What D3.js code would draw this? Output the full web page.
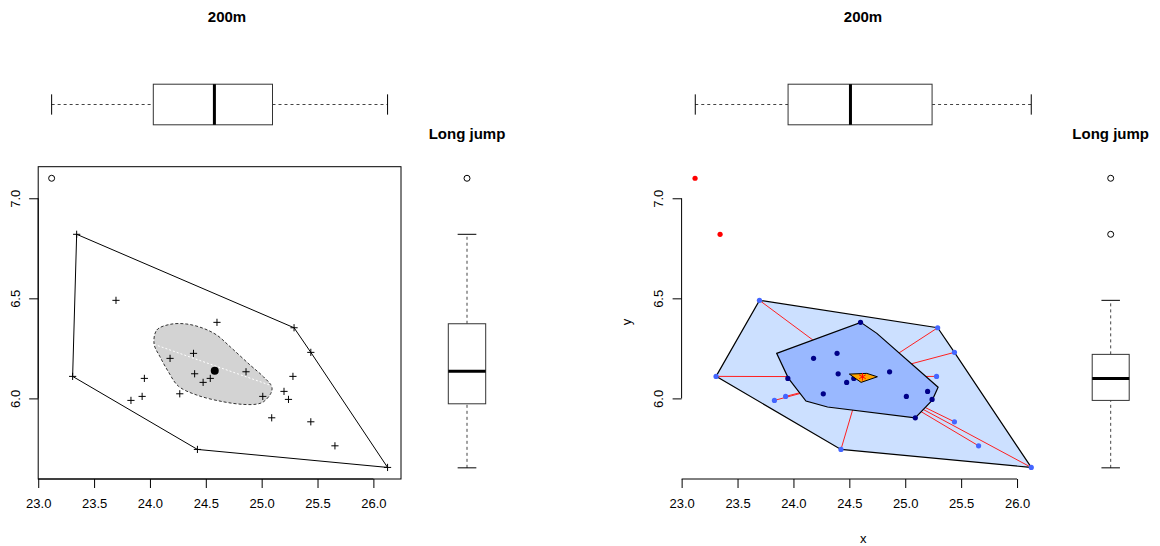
<!DOCTYPE html>
<html>
<head>
<meta charset="utf-8">
<script src="https://cdn.jsdelivr.net/npm/d3@7"></script>
<style>
body { margin: 0; background: #fff; }
svg { display: block; font-family: "Liberation Sans", Arial, Helvetica, sans-serif; }
</style>
</head>
<body>
<div id="chart"></div>
<script>
// athletes: 200m time vs long jump distance
var run200m  = [23.12, 23.344, 23.696, 23.308, 24.425, 26.127, 25.29, 25.44, 24.60, 24.39, 24.18, 24.40, 24.54,
                24.476, 24.86, 23.95, 24.267, 23.93, 23.83, 25.01, 25.28, 25.20, 25.24, 25.09, 25.44, 25.656];
var longJump = [7.10, 6.82, 6.49, 6.11, 5.745, 5.655, 6.353, 6.23, 6.38, 6.225, 6.20, 6.123, 6.10,
                6.08, 6.133, 6.10, 6.023, 6.01, 5.99, 6.01, 6.11, 6.035, 5.995, 5.903, 5.883, 5.763];

// classification of each point in the right hand bagplot
var rightGroup = ["out", "out", "loop", "loop", "loop", "loop", "loop", "loop", "bag", "bag", "bag", "bag", "bag",
                  "bag", "bag", "bag", "bag", "loop", "loop", "bag", "loop", "bag", "bag", "bag", "loop", "loop"];
var leftOutlier = [0];

// left bag (smoothed outline), its axis and centre
var bagLeftX = [24.037, 24.061, 24.18, 24.33, 24.478, 24.598, 24.718, 24.897, 25.016, 25.091,
                25.082, 25.016, 24.957, 24.837, 24.658, 24.42, 24.254, 24.165, 24.09];
var bagLeftY = [6.2715, 6.3415, 6.37, 6.3715, 6.35, 6.3165, 6.258, 6.1665, 6.108, 6.058,
                6.025, 5.983, 5.9715, 5.97, 5.983, 6.0165, 6.0615, 6.133, 6.208];
var bagLeftAxisX = [24.037, 25.09];
var bagLeftAxisY = [6.27, 6.063];
var centerLeft = [24.58, 6.138];

// right bag polygon, median region and centre
var bagRightX = [23.85, 24.602, 24.746, 25.294, 25.242, 25.089, 24.305, 24.112, 23.954];
var bagRightY = [6.225, 6.38, 6.325, 6.056, 5.9915, 5.903, 5.957, 5.9865, 6.1015];
var medRegionX = [24.50, 24.656, 24.751, 24.605];
var medRegionY = [6.1215, 6.125, 6.108, 6.08];
var centerRight = [24.617, 6.108];

// marginal boxplots: [lower whisker, Q1, median, Q3, upper whisker]
var boxTopLeft   = [23.12, 24.03, 24.577, 25.097, 26.127];
var boxSideLeft  = [5.653, 5.973, 6.136, 6.373, 6.82];
var boxSideLeftOut = [7.10];
var boxTopRight  = [23.122, 23.952, 24.51, 25.24, 26.127];
var boxSideRight = [5.653, 5.99, 6.10, 6.22, 6.49];
var boxSideRightOut = [7.10, 6.82];

var xTicks = [23.0, 23.5, 24.0, 24.5, 25.0, 25.5, 26.0];
var yTicks = [6.0, 6.5, 7.0];

var width = 1160, height = 546;
var svg = d3.select("#chart").append("svg")
    .attr("width", width)
    .attr("height", height);

var points = run200m.map(function (d, i) {
    return { x: d, y: longJump[i], i: i };
});

// R style 4% padding of the ranges
function padded(arr) {
    var e = d3.extent(arr), p = (e[1] - e[0]) * 0.04;
    return [e[0] - p, e[1] + p];
}
var xDom = padded(run200m), yDom = padded(longJump);

var plotTop = 166.7, plotBottom = 479;
var yScale = d3.scaleLinear().domain(yDom).range([plotBottom, plotTop]);
var xLeft = d3.scaleLinear().domain(xDom).range([38.2, 401]);
var xRight = d3.scaleLinear().domain(xDom).range([681.6, 1044.7]);

function drawAxes(g, x, boxed, titles) {
    var x0 = x.range()[0];
    if (boxed) {
        g.append("rect")
            .attr("x", x.range()[0]).attr("y", plotTop)
            .attr("width", x.range()[1] - x.range()[0])
            .attr("height", plotBottom - plotTop)
            .attr("fill", "none").attr("stroke", "#000").attr("stroke-width", 1);
    }
    var ax = g.append("g")
        .attr("transform", "translate(0," + plotBottom + ")")
        .call(d3.axisBottom(x).tickValues(xTicks).tickFormat(d3.format(".1f")).tickSize(9).tickPadding(12));
    var ay = g.append("g")
        .attr("transform", "translate(" + x0 + ",0)")
        .call(d3.axisLeft(yScale).tickValues(yTicks).tickFormat(d3.format(".1f")).tickSize(9).tickPadding(12));
    [ax, ay].forEach(function (a) {
        a.select(".domain").remove();
        a.selectAll("line").attr("stroke", "#000");
        a.selectAll("text").attr("fill", "#000").style("font-size", "13px");
    });
    // axis lines span first to last tick only
    ax.append("line").attr("x1", x(xTicks[0])).attr("x2", x(xTicks[xTicks.length - 1]))
        .attr("stroke", "#000");
    ay.append("line").attr("y1", yScale(yTicks[0])).attr("y2", yScale(yTicks[yTicks.length - 1]))
        .attr("stroke", "#000");
    // y labels parallel to the axis
    ay.selectAll(".tick text")
        .attr("x", null).attr("dy", null)
        .attr("text-anchor", "middle")
        .attr("transform", "translate(-23,0) rotate(-90)")
        .attr("dy", "0.35em");
    ax.selectAll(".tick text").attr("dy", "0.6em");
    if (titles) {
        g.append("text").attr("x", (x.range()[0] + x.range()[1]) / 2).attr("y", 538)
            .attr("text-anchor", "middle").attr("dy", "0.35em")
            .style("font-size", "13px").text("x");
        g.append("text")
            .attr("transform", "translate(626," + 322 + ") rotate(-90)")
            .attr("text-anchor", "middle").attr("dy", "0.35em")
            .style("font-size", "13px").text("y");
    }
}

function horizontalBox(g, x, stats, cy, hh) {
    var dash = "3,3";
    g.append("line").attr("x1", x(stats[0])).attr("x2", x(stats[1])).attr("y1", cy).attr("y2", cy)
        .attr("stroke", "#444").attr("stroke-dasharray", dash);
    g.append("line").attr("x1", x(stats[3])).attr("x2", x(stats[4])).attr("y1", cy).attr("y2", cy)
        .attr("stroke", "#444").attr("stroke-dasharray", dash);
    [stats[0], stats[4]].forEach(function (v) {
        g.append("line").attr("x1", x(v)).attr("x2", x(v)).attr("y1", cy - hh / 2).attr("y2", cy + hh / 2)
            .attr("stroke", "#000");
    });
    g.append("rect").attr("x", x(stats[1])).attr("y", cy - hh)
        .attr("width", x(stats[3]) - x(stats[1])).attr("height", 2 * hh)
        .attr("fill", "#fff").attr("stroke", "#333");
    g.append("line").attr("x1", x(stats[2])).attr("x2", x(stats[2])).attr("y1", cy - hh).attr("y2", cy + hh)
        .attr("stroke", "#000").attr("stroke-width", 3);
}

function verticalBox(g, stats, outl, cx, hw) {
    var dash = "3,3";
    g.append("line").attr("y1", yScale(stats[0])).attr("y2", yScale(stats[1])).attr("x1", cx).attr("x2", cx)
        .attr("stroke", "#444").attr("stroke-dasharray", dash);
    g.append("line").attr("y1", yScale(stats[3])).attr("y2", yScale(stats[4])).attr("x1", cx).attr("x2", cx)
        .attr("stroke", "#444").attr("stroke-dasharray", dash);
    [stats[0], stats[4]].forEach(function (v) {
        g.append("line").attr("y1", yScale(v)).attr("y2", yScale(v)).attr("x1", cx - hw / 2).attr("x2", cx + hw / 2)
            .attr("stroke", "#000");
    });
    g.append("rect").attr("y", yScale(stats[3])).attr("x", cx - hw)
        .attr("height", yScale(stats[1]) - yScale(stats[3])).attr("width", 2 * hw)
        .attr("fill", "#fff").attr("stroke", "#333");
    g.append("line").attr("y1", yScale(stats[2])).attr("y2", yScale(stats[2])).attr("x1", cx - hw).attr("x2", cx + hw)
        .attr("stroke", "#000").attr("stroke-width", 3);
    g.selectAll(".outl").data(outl).enter().append("circle")
        .attr("class", "outl")
        .attr("cx", cx).attr("cy", function (d) { return yScale(d); }).attr("r", 3)
        .attr("fill", "none").attr("stroke", "#000");
}

function titleText(g, x, y, t) {
    g.append("text").attr("x", x).attr("y", y).attr("text-anchor", "middle").attr("dy", "0.35em")
        .style("font-size", "15px").style("font-weight", "bold").text(t);
}

// ---------- left panel ----------
var left = svg.append("g");
drawAxes(left, xLeft, true, false);

var leftIn = points.filter(function (d) { return leftOutlier.indexOf(d.i) < 0; });
var hullL = d3.polygonHull(leftIn.map(function (d) { return [xLeft(d.x), yScale(d.y)]; }));
left.append("path").attr("d", "M" + hullL.join("L") + "Z")
    .attr("fill", "none").attr("stroke", "#000").attr("stroke-width", 1);

var bagLine = d3.line()
    .x(function (d) { return xLeft(d[0]); })
    .y(function (d) { return yScale(d[1]); })
    .curve(d3.curveCatmullRomClosed);
left.append("path")
    .attr("d", bagLine(bagLeftX.map(function (d, i) { return [d, bagLeftY[i]]; })))
    .attr("fill", "#d3d3d3").attr("stroke", "#333").attr("stroke-dasharray", "3,2");
left.append("line")
    .attr("x1", xLeft(bagLeftAxisX[0])).attr("y1", yScale(bagLeftAxisY[0]))
    .attr("x2", xLeft(bagLeftAxisX[1])).attr("y2", yScale(bagLeftAxisY[1]))
    .attr("stroke", "#fff").attr("stroke-dasharray", "2,2");

left.selectAll(".plus").data(leftIn).enter().append("path")
    .attr("class", "plus")
    .attr("d", function (d) {
        var px = xLeft(d.x), py = yScale(d.y), s = 3.6;
        return "M" + (px - s) + "," + py + "H" + (px + s) + "M" + px + "," + (py - s) + "V" + (py + s);
    })
    .attr("stroke", "#000").attr("stroke-width", 1);
left.selectAll(".lout").data(points.filter(function (d) { return leftOutlier.indexOf(d.i) >= 0; }))
    .enter().append("circle")
    .attr("cx", function (d) { return xLeft(d.x); })
    .attr("cy", function (d) { return yScale(d.y); })
    .attr("r", 3).attr("fill", "none").attr("stroke", "#000");
left.append("circle").attr("cx", xLeft(centerLeft[0])).attr("cy", yScale(centerLeft[1]))
    .attr("r", 4).attr("fill", "#000");

horizontalBox(left, xLeft, boxTopLeft, 104.5, 20.3);
verticalBox(left, boxSideLeft, boxSideLeftOut, 467, 18.7);
titleText(left, 227, 17, "200m");
titleText(left, 467, 134, "Long jump");

// ---------- right panel ----------
var right = svg.append("g");
drawAxes(right, xRight, false, true);

var loopPts = points.filter(function (d) { return rightGroup[d.i] !== "out"; });
var hullR = d3.polygonHull(loopPts.map(function (d) { return [xRight(d.x), yScale(d.y)]; }));
right.append("path").attr("d", "M" + hullR.join("L") + "Z")
    .attr("fill", "#cce0ff").attr("stroke", "#000").attr("stroke-width", 1.2);

var bagPoly = bagRightX.map(function (d, i) { return [xRight(d), yScale(bagRightY[i])]; });
var cR = [xRight(centerRight[0]), yScale(centerRight[1])];

// whiskers: from each loop point toward the centre, stopping at the bag
function toBag(p) {
    var best = 1;
    for (var k = 0; k < bagPoly.length; k++) {
        var a = bagPoly[k], b = bagPoly[(k + 1) % bagPoly.length];
        var rx = cR[0] - p[0], ry = cR[1] - p[1], sx = b[0] - a[0], sy = b[1] - a[1];
        var den = rx * sy - ry * sx;
        if (Math.abs(den) < 1e-9) continue;
        var t = ((a[0] - p[0]) * sy - (a[1] - p[1]) * sx) / den;
        var u = ((a[0] - p[0]) * ry - (a[1] - p[1]) * rx) / den;
        if (t >= 0 && t <= 1 && u >= 0 && u <= 1 && t < best) best = t;
    }
    return [p[0] + best * (cR[0] - p[0]), p[1] + best * (cR[1] - p[1])];
}
right.selectAll(".whisk").data(points.filter(function (d) { return rightGroup[d.i] === "loop"; }))
    .enter().append("line")
    .attr("class", "whisk")
    .each(function (d) {
        var p = [xRight(d.x), yScale(d.y)], q = toBag(p);
        d3.select(this).attr("x1", p[0]).attr("y1", p[1]).attr("x2", q[0]).attr("y2", q[1]);
    })
    .attr("stroke", "#ff2020").attr("stroke-width", 1);

right.append("path").attr("d", "M" + bagPoly.join("L") + "Z")
    .attr("fill", "#99b8ff").attr("stroke", "#000").attr("stroke-width", 1.2);

var colors = { bag: "#000088", loop: "#4466ff", out: "#ff0000" };
right.selectAll(".pt").data(points).enter().append("circle")
    .attr("class", "pt")
    .attr("cx", function (d) { return xRight(d.x); })
    .attr("cy", function (d) { return yScale(d.y); })
    .attr("r", 2.6)
    .attr("fill", function (d) { return colors[rightGroup[d.i]]; });

var medPoly = medRegionX.map(function (d, i) { return [xRight(d), yScale(medRegionY[i])]; });
right.append("path").attr("d", "M" + medPoly.join("L") + "Z")
    .attr("fill", "#ffa500").attr("stroke", "#000").attr("stroke-width", 1);
right.append("path")
    .attr("d", d3.symbol().type(d3.symbolAsterisk).size(40)())
    .attr("transform", "translate(" + cR[0] + "," + cR[1] + ")")
    .attr("fill", "none").attr("stroke", "#ff0000").attr("stroke-width", 1);

horizontalBox(right, xRight, boxTopRight, 104.5, 20.3);
verticalBox(right, boxSideRight, boxSideRightOut, 1110.7, 18.5);
titleText(right, 863, 17, "200m");
titleText(right, 1110.7, 134, "Long jump");
</script>
</body>
</html>
